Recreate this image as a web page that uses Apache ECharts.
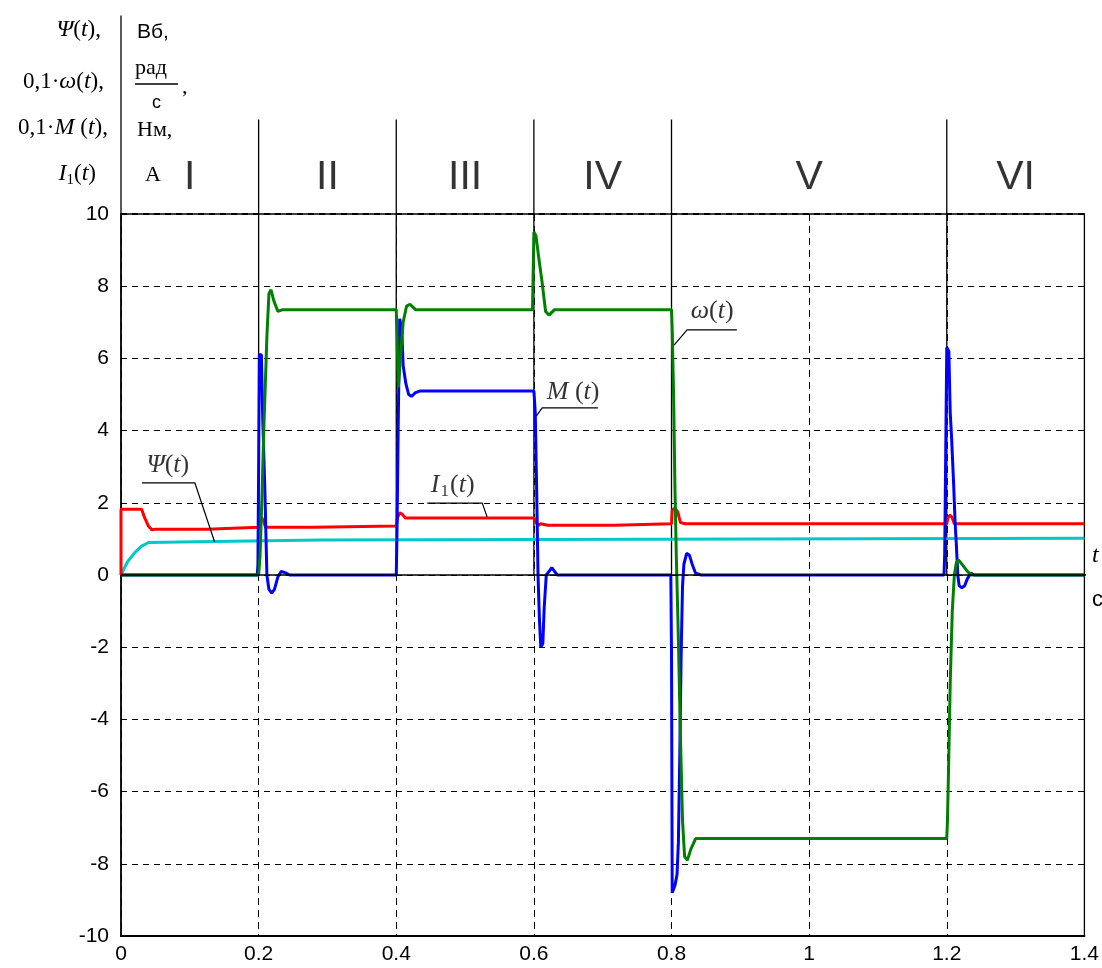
<!DOCTYPE html>
<html><head><meta charset="utf-8">
<script src="https://cdn.jsdelivr.net/npm/echarts@6/dist/echarts.min.js"></script>
<style>html,body{margin:0;padding:0;background:#fff}#c{width:1102px;height:968px}</style>
</head><body><div id="c"></div>
<script>
// ---- data ----
const xMin = 0, xMax = 1.4, xStep = 0.2;
const yMin = -10, yMax = 10, yStep = 2;
const sectionNames = ['I', 'II', 'III', 'IV', 'V', 'VI'];
const sectionBounds = [0, 0.2, 0.4, 0.6, 0.8, 1.2, 1.4];
const separatorTimes = [0.2, 0.4, 0.6, 0.8, 1.2];

// Ψ(t), Wb
const psiT = [0, 0.005, 0.01, 0.02, 0.03, 0.04, 0.11, 0.112, 0.29, 0.292, 1.4];
const psiV = [0, 0.2, 0.38, 0.62, 0.8, 0.9, 0.92, 0.96, 0.97, 1.01, 1.02];

// I1(t), A
const curT = [0, 0, 0.03, 0.034, 0.04, 0.045, 0.05, 0.125, 0.127, 0.2, 0.202, 0.204, 0.207, 0.21, 0.28, 0.282, 0.4, 0.402, 0.405, 0.409, 0.413, 0.6, 0.603, 0.607, 0.61, 0.62, 0.718, 0.72, 0.8, 0.801, 0.805, 0.809, 0.813, 0.82, 1.2, 1.202, 1.205, 1.208, 1.211, 1.4];
const curV = [0, 1.82, 1.82, 1.6, 1.35, 1.25, 1.27, 1.27, 1.32, 1.32, 1.5, 1.6, 1.5, 1.32, 1.32, 1.36, 1.36, 1.6, 1.72, 1.68, 1.58, 1.58, 1.45, 1.38, 1.42, 1.38, 1.38, 1.42, 1.42, 1.8, 1.85, 1.75, 1.45, 1.42, 1.42, 1.6, 1.66, 1.58, 1.42, 1.42];

// 0.1·M(t), N·m
const torT = [0, 0.198, 0.199, 0.2, 0.201, 0.204, 0.206, 0.209, 0.212, 0.215, 0.219, 0.223, 0.228, 0.233, 0.24, 0.245, 0.4, 0.401, 0.403, 0.405, 0.408, 0.41, 0.414, 0.418, 0.422, 0.428, 0.435, 0.6, 0.602, 0.604, 0.606, 0.608, 0.61, 0.613, 0.615, 0.618, 0.622, 0.626, 0.63, 0.634, 0.799, 0.8, 0.801, 0.805, 0.808, 0.81, 0.812, 0.814, 0.816, 0.818, 0.822, 0.826, 0.83, 0.835, 0.843, 1.196, 1.197, 1.2, 1.203, 1.205, 1.207, 1.21, 1.212, 1.214, 1.216, 1.218, 1.222, 1.226, 1.23, 1.235, 1.24, 1.4];
const torV = [0, 0, 0.3, 3, 6.1, 6.1, 4.3, 2.4, 0, -0.4, -0.5, -0.4, -0.05, 0.1, 0.05, 0, 0, 1.1, 4.4, 7.1, 6.8, 5.8, 5.3, 5.0, 4.95, 5.05, 5.1, 5.1, 4.5, 2.4, 0, -1.2, -2.0, -1.9, -0.9, 0, 0.1, 0.2, 0.1, 0, 0, -2.2, -8.8, -8.6, -8.3, -7.4, -5.0, -2.2, -0.3, 0.3, 0.6, 0.55, 0.3, 0.05, 0, 0, 0.6, 6.3, 6.2, 4.5, 3.8, 2.5, 1.5, 0.8, 0, -0.3, -0.35, -0.3, -0.1, 0.05, 0, 0];

// 0.1·ω(t), rad/s
const omgT = [0, 0.2, 0.202, 0.205, 0.208, 0.212, 0.215, 0.218, 0.222, 0.228, 0.235, 0.4, 0.402, 0.403, 0.406, 0.41, 0.415, 0.42, 0.428, 0.598, 0.6, 0.603, 0.607, 0.612, 0.617, 0.622, 0.63, 0.8, 0.801, 0.803, 0.805, 0.807, 0.81, 0.813, 0.816, 0.819, 0.823, 0.828, 0.835, 1.2, 1.201, 1.203, 1.205, 1.208, 1.211, 1.214, 1.217, 1.222, 1.23, 1.236, 1.4];
const omgV = [0, 0, 0.5, 2.3, 4.3, 6.6, 7.8, 7.9, 7.6, 7.3, 7.35, 7.35, 6.0, 5.2, 6.0, 7.0, 7.45, 7.5, 7.35, 7.35, 9.5, 9.4, 8.8, 8.1, 7.3, 7.2, 7.35, 7.35, 6.8, 5.0, 2.4, 0.5, -1.8, -4.5, -6.8, -7.8, -7.9, -7.6, -7.3, -7.3, -6.8, -5.0, -3.0, -1.0, 0.0, 0.35, 0.42, 0.3, 0.1, 0, 0];

// curve annotations: text position and leader polyline (data units)
const annotations = [
  { text: '{i|ω}{n|(}{i|t}{n|)}', at: [0.859, 7.3], leader: [[0.8037, 6.37], [0.8226, 6.79], [0.895, 6.79]] },
  { text: '{i|M}{n| (}{i|t}{n|)}', at: [0.657, 5.07], leader: [[0.6035, 4.4], [0.612, 4.63], [0.693, 4.63]] },
  { text: '{i|I}{s|1}{n|(}{i|t}{n|)}', at: [0.482, 2.48], leader: [[0.445, 1.99], [0.525, 1.99], [0.532, 1.61]] },
  { text: '{i|Ψ}{n|(}{i|t}{n|)}', at: [0.068, 3.05], leader: [[0.0305, 2.55], [0.1074, 2.55], [0.136, 0.92]] }
];

// ---- chart ----
const zip = (a, b) => a.map((t, i) => [t, b[i]]);
const chart = echarts.init(document.getElementById('c'));
const serif = 'Liberation Serif, Times New Roman, serif';
const richStyle = {
  i: { fontFamily: serif, fontStyle: 'italic', fontSize: 26, color: '#000', lineHeight: 30 },
  n: { fontFamily: serif, fontSize: 26, color: '#000', lineHeight: 30 },
  s: { fontFamily: serif, fontSize: 17, color: '#000', lineHeight: 30, verticalAlign: 'bottom', padding: [10, 1, 0, 1] }
};

const decor = (data, style, z) => ({
  type: 'line', data, symbol: 'none', clip: false, silent: true, z: z || 3,
  lineStyle: Object.assign({ color: '#000', width: 1.3 }, style), animation: false
});

const series = [];
separatorTimes.forEach(t => series.push(decor([[t, 0], [t, 12.62]], { width: 1.3 })));
series.push(decor([[0, 10], [0, 15.5]], { width: 1.3 }));
series.push(decor([[0, 10], [1.4, 10]], { width: 2.2, type: [6, 5] }));
series.push({ name: 'psi', type: 'line', data: zip(psiT, psiV), symbol: 'none', z: 5, lineStyle: { color: '#00c8c8', width: 3 }, animation: false });
series.push({ name: 'I1', type: 'line', data: zip(curT, curV), symbol: 'none', z: 5, lineStyle: { color: '#ff0000', width: 3 }, animation: false });
series.push({ name: 'M', type: 'line', data: zip(torT, torV), symbol: 'none', z: 6, lineStyle: { color: '#0000ff', width: 3 }, animation: false });
series.push({ name: 'omega', type: 'line', data: zip(omgT, omgV), symbol: 'none', z: 7, lineStyle: { color: '#008000', width: 3 }, animation: false });
series.push(decor([[0, 0], [1.43, 0]], { width: 1.5 }, 8));
annotations.forEach(a => series.push(decor(a.leader, { width: 1.2 }, 9)));
series.push({
  type: 'scatter', clip: false, silent: true, symbolSize: 0, z: 10, animation: false,
  data: annotations.map(a => ({ value: a.at, label: { formatter: a.text } })),
  label: { show: true, position: 'inside', rich: richStyle }
});
series.push({
  type: 'scatter', clip: false, silent: true, symbolSize: 0, z: 10, animation: false,
  data: sectionNames.map((n, i) => ({ value: [(sectionBounds[i] + sectionBounds[i + 1]) / 2, 11.0], name: n })),
  label: { show: true, position: 'inside', formatter: p => p.name, fontFamily: 'Liberation Sans, Arial, sans-serif', fontSize: 41, color: '#000' }
});

const titleRich = {
  i: { fontFamily: serif, fontStyle: 'italic', fontSize: 24, fill: '#000' },
  n: { fontFamily: serif, fontSize: 23, fill: '#000' },
  s: { fontFamily: serif, fontSize: 15, fill: '#000', padding: [12, 0, 0, 0] }
};
const txt = (x, y, text, align, extra) => ({
  type: 'text', x, y, silent: true,
  style: Object.assign({ text, align: align || 'left', verticalAlign: 'middle', rich: titleRich, fill: '#000' }, extra || {})
});

chart.setOption({
  animation: false,
  backgroundColor: '#fff',
  grid: { left: 121, top: 214, width: 965, height: 722, show: true, borderColor: '#000', borderWidth: 1.3, backgroundColor: 'transparent' },
  xAxis: {
    type: 'value', min: xMin, max: xMax, interval: xStep,
    axisLine: { show: true, onZero: false, lineStyle: { color: '#000', width: 2 } },
    axisTick: { show: false },
    splitLine: { show: true, lineStyle: { color: '#000', width: 1, type: [7, 5] } },
    axisLabel: { color: '#000', fontFamily: 'Liberation Sans Narrow, Arial Narrow, Liberation Sans, sans-serif', fontSize: 21, margin: 8, formatter: v => String(+v.toFixed(1)) }
  },
  yAxis: {
    type: 'value', min: yMin, max: yMax, interval: yStep,
    axisLine: { show: true, onZero: false, lineStyle: { color: '#000', width: 1.5 } },
    axisTick: { show: false },
    splitLine: { show: true, lineStyle: { color: '#000', width: 1, type: [6, 5] } },
    axisLabel: { color: '#000', fontFamily: 'Liberation Sans Narrow, Arial Narrow, Liberation Sans, sans-serif', fontSize: 21, margin: 12 }
  },
  graphic: [
    txt(101, 30, '{i|Ψ}{n|(}{i|t}{n|),}', 'right'),
    txt(104, 82, '{n|0,1·}{i|ω}{n|(}{i|t}{n|),}', 'right'),
    txt(108, 128, '{n|0,1·}{i|M}{n| (}{i|t}{n|),}', 'right'),
    txt(96, 174, '{i|I}{s|1}{n|(}{i|t}{n|)}', 'right'),
    txt(137, 32, 'Вб,', 'left', { rich: null, font: '21px Liberation Sans, Arial, sans-serif' }),
    txt(135, 68, 'рад', 'left', { rich: null, font: '22px ' + serif }),
    { type: 'line', silent: true, shape: { x1: 135, y1: 84, x2: 178, y2: 84 }, style: { stroke: '#000', lineWidth: 1.3 } },
    txt(182, 87, ',', 'left', { rich: null, font: '22px ' + serif }),
    txt(152, 103, 'с', 'left', { rich: null, font: '18px Liberation Sans, Arial, sans-serif' }),
    txt(137, 130, 'Нм,', 'left', { rich: null, font: '22px ' + serif }),
    txt(145, 175, 'А', 'left', { rich: null, font: '22px ' + serif }),
    txt(1092, 556, 't', 'left', { rich: null, font: 'italic 24px ' + serif }),
    txt(1092, 600, 'с', 'left', { rich: null, font: '22px Liberation Sans, Arial, sans-serif' })
  ],
  series
});
</script>
</body></html>
